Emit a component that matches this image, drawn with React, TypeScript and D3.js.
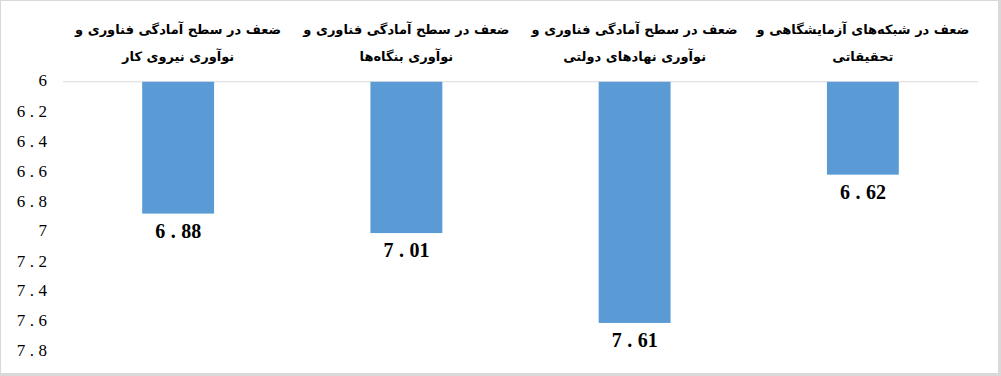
import React from "react";
import * as d3 from "d3";

const categoryLines: string[][] = [
  ["ضعف در سطح آمادگی فناوری و", "نوآوری نیروی کار"],
  ["ضعف در سطح آمادگی فناوری و", "نوآوری بنگاه‌ها"],
  ["ضعف در سطح آمادگی فناوری و", "نوآوری نهادهای دولتی"],
  ["ضعف در شبکه‌های آزمایشگاهی و", "تحقیقاتی"],
];
const values: number[] = [6.88, 7.01, 7.61, 6.62];
const tickValues: number[] = [6, 6.2, 6.4, 6.6, 6.8, 7, 7.2, 7.4, 7.6, 7.8];

const W = 1001;
const H = 376;
const plot = { left: 64, right: 977, top: 81.8, bottom: 351.4 };

function SpacedNumber({ text, gap }: { text: string; gap: number }) {
  const parts = text.split(".");
  if (parts.length === 1) return <>{text}</>;
  return (
    <>
      <tspan>{parts[0]}</tspan>
      <tspan dx={gap}>.</tspan>
      <tspan dx={gap}>{parts[1]}</tspan>
    </>
  );
}

export default function App() {
  const x = d3
    .scaleBand<number>()
    .domain(values.map((_, i) => i))
    .range([plot.left, plot.right])
    .paddingInner(0.685)
    .paddingOuter(0.3425);
  const y = d3.scaleLinear().domain([6, 7.8]).range([plot.top, plot.bottom]);

  return (
    <svg
      width={W}
      height={H}
      style={{ position: "absolute", left: 0, top: 0 }}
      xmlns="http://www.w3.org/2000/svg"
    >
      <rect x={0} y={0} width={W} height={H} fill="#d9d9d9" />
      <rect x={1} y={1} width={997} height={372} fill="#ffffff" />

      {/* axis line at 6 */}
      <line
        x1={plot.left - 1}
        x2={plot.right + 1}
        y1={y(6)}
        y2={y(6)}
        stroke="#d9d9d9"
        strokeWidth={1}
      />

      {/* y tick labels */}
      {tickValues.map((t) => (
        <text
          key={t}
          x={47}
          y={y(t) - 1}
          textAnchor="end"
          dominantBaseline="central"
          fontFamily="'Liberation Serif', serif"
          fontSize={17}
          fill="#000"
        >
          <SpacedNumber text={d3.format("~g")(t)} gap={4.5} />
        </text>
      ))}

      {/* bars */}
      {values.map((v, i) => (
        <rect
          key={i}
          x={x(i)}
          y={y(6)}
          width={x.bandwidth()}
          height={y(v) - y(6)}
          fill="#5b9bd5"
        />
      ))}

      {/* data labels */}
      {values.map((v, i) => (
        <text
          key={i}
          x={(x(i) as number) + x.bandwidth() / 2}
          y={y(v) + 24}
          textAnchor="middle"
          fontFamily="'Liberation Serif', serif"
          fontWeight="bold"
          fontSize={20}
          fill="#000"
        >
          <SpacedNumber text={v.toFixed(2)} gap={5.5} />
        </text>
      ))}

      {/* category labels */}
      {categoryLines.map((lines, i) => (
        <text
          key={i}
          x={(x(i) as number) + x.bandwidth() / 2}
          textAnchor="middle"
          direction="rtl"
          fontFamily="'DejaVu Sans', sans-serif"
          fontWeight="bold"
          fontSize={13}
          fill="#000"
        >
          {lines.map((l, j) => (
            <tspan key={j} x={(x(i) as number) + x.bandwidth() / 2} y={34 + j * 27}>
              {l}
            </tspan>
          ))}
        </text>
      ))}
    </svg>
  );
}
